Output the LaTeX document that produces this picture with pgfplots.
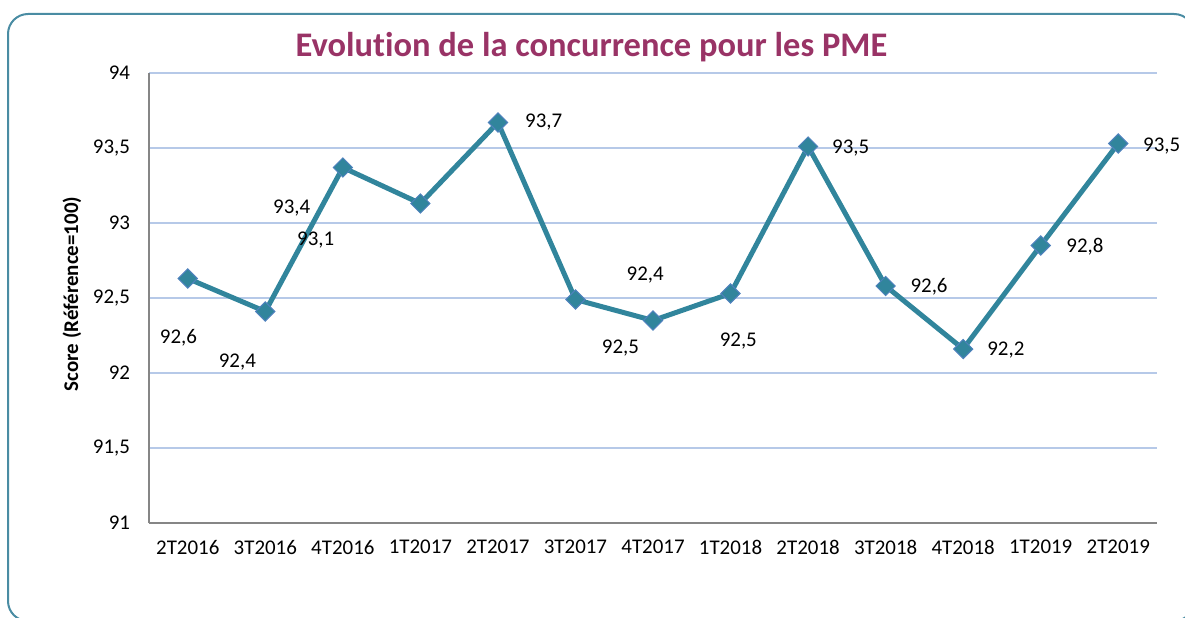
\documentclass[border=0pt]{standalone}
\usepackage{fontspec}
\setmainfont[Ligatures=NoCommon]{Carlito}
\usepackage{pgfplots}
\pgfplotsset{compat=1.18}

\definecolor{serie}{RGB}{49,133,156}
\definecolor{markedge}{RGB}{79,129,189}
\definecolor{titre}{RGB}{153,51,102}
\definecolor{grille}{RGB}{182,201,232}
\definecolor{cadre}{RGB}{74,140,163}
\definecolor{axe}{RGB}{134,134,134}

\begin{document}
\begin{tikzpicture}[x=1bp,y=1bp]
  \useasboundingbox (0,0) rectangle (592.5,308.5);
  % cadre arrondi, coupe a droite et en bas
  \draw[cadre, line width=1bp, rounded corners=10bp] (4,-2) rectangle (597,301.5);

  \node[titre, font=\fontsize{17.3}{20}\selectfont\bfseries] at (295.75,285) {Evolution de la concurrence pour les PME};
  \node[rotate=90, font=\fontsize{10.5}{12}\selectfont\bfseries] at (36,161.5) {Score (Référence=100)};

  \begin{axis}[
    at={(74.5bp,47bp)}, anchor=south west,
    scale only axis,
    width=504bp, height=225bp,
    xmin=-0.5, xmax=12.5,
    ymin=91, ymax=94,
    ytick={91,91.5,...,94},
    xtick={0,...,12},
    xticklabels={2T2016,3T2016,4T2016,1T2017,2T2017,3T2017,4T2017,1T2018,2T2018,3T2018,4T2018,1T2019,2T2019},
    axis x line*=bottom, axis y line*=left,
    axis line style={axe, line width=0.75bp, -},
    major tick length=0pt,
    ymajorgrids,
    grid style={grille, line width=0.75bp},
    tick label style={font=\fontsize{10.5}{12}\selectfont},
    /pgf/number format/use comma,
    /pgf/number format/assume math mode=true,
    yticklabel style={xshift=-6bp},
    xticklabel style={yshift=-5bp},
    clip=false,
  ]
    \addplot[serie, line width=2.5bp, mark=square*,
      mark options={rotate=45, fill=serie, draw=markedge, line width=0.5bp},
      mark size=3.4bp]
      coordinates {
        (0,92.63) (1,92.41) (2,93.37) (3,93.13) (4,93.67) (5,92.49) (6,92.35)
        (7,92.53) (8,93.51) (9,92.58) (10,92.16) (11,92.85) (12,93.53)
      };

    \begin{scope}[font=\fontsize{10.5}{12}\selectfont]
      \node at (axis cs:-0.12,92.233) {92,6};
      \node at (axis cs:0.64,92.073) {92,4};
      \node at (axis cs:1.34,93.10) {93,4};
      \node at (axis cs:1.65,92.887) {93,1};
      \node at (axis cs:4.59,93.673) {93,7};
      \node at (axis cs:5.90,92.653) {92,4};
      \node at (axis cs:5.58,92.167) {92,5};
      \node at (axis cs:7.10,92.213) {92,5};
      \node at (axis cs:8.55,93.50) {93,5};
      \node at (axis cs:9.56,92.573) {92,6};
      \node at (axis cs:10.55,92.153) {92,2};
      \node at (axis cs:11.57,92.84) {92,8};
      \node at (axis cs:12.56,93.513) {93,5};
    \end{scope}
  \end{axis}
\end{tikzpicture}
\end{document}
